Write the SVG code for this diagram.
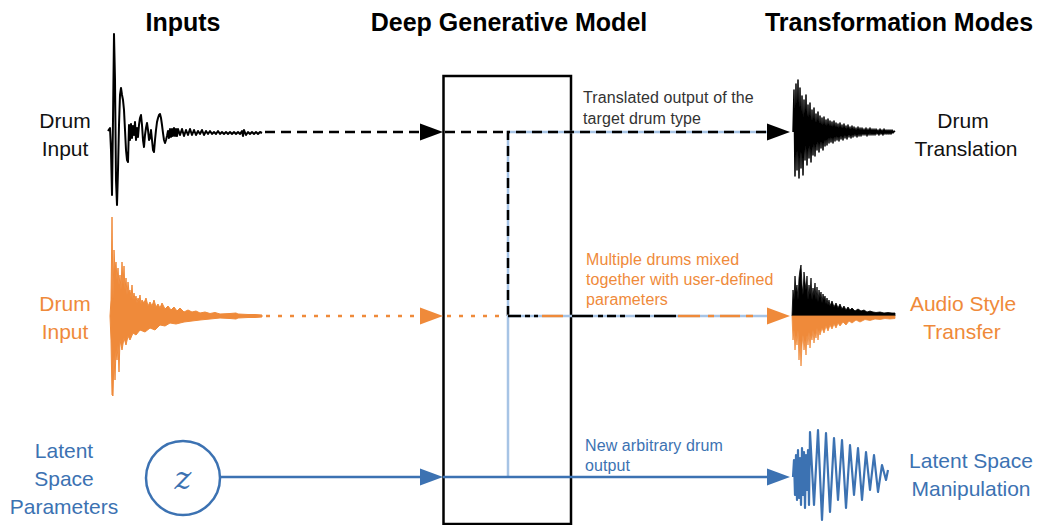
<svg xmlns="http://www.w3.org/2000/svg" xmlns:xlink="http://www.w3.org/1999/xlink" width="1040" height="525" viewBox="0 0 1040 525">
  <style>
    .title { font-family: "Liberation Sans", Arial, sans-serif; font-weight: bold; font-size: 25px; fill: #000; text-anchor: middle; }
    .label { font-family: "Liberation Sans", Arial, sans-serif; font-size: 21px; text-anchor: middle; }
    .note { font-family: "Liberation Sans", Arial, sans-serif; font-size: 16px; letter-spacing: 0.1px; }
    .black { fill: #111; }
    .grey { fill: #333; }
    .orange { fill: #ef8a3a; }
    .blue { fill: #3c72b2; }
    .wire { fill: none; stroke-width: 2.5; }
  </style>
  <defs>
    <path id="arrowhead" d="M0,0 L-23,-8.5 L-23,8.5 Z"/>
  </defs>

  <rect width="1040" height="525" fill="#fff"/>

  <!-- column titles -->
  <text class="title" x="183" y="31">Inputs</text>
  <text class="title" x="509" y="31">Deep Generative Model</text>
  <text class="title" x="899" y="31">Transformation Modes</text>

  <!-- model box -->
  <g id="model">
    <rect x="443.5" y="76" width="127.5" height="448" fill="none" stroke="#000" stroke-width="2.5"/>
  </g>

  <!-- input: drum (black) -->
  <g id="drum-input">
    <text class="label black" x="65" y="127.5">Drum</text>
    <text class="label black" x="65" y="155.5">Input</text>
    <path fill="none" stroke="#000" stroke-width="2" stroke-linejoin="round" d="M108,131 L110,128 L111,150 L112,195 L113,120 L114,34 L115,80 L116,180 L117,205 L118,170 L119,125 L120,95 L121,88 L122,95 L123,100 L124,110 L125,130 L126,150 L127,160 L128,162 L129,125 L130,140 L131,124 L132,138 L133,126 L134,135 L135,122 L136,140 L137,128 L138,137 L139,125 L140,118 L141,115 L142,125 L143,140 L144,147 L145,135 L146,128 L147,123 L148,130 L149,140 L150,138 L151,130 L152,140 L153,150 L154,152 L155,140 L156,130 L157,122 L158,118 L159,115 L160,114 L161,118 L162,125 L163,133 L164,140 L165,143 L166,140 L167,136 L168,131 L169,138 L170,129 L171,137 L172,129 L173,136 L174,128 L175,136 L176,129 L177,136 L178,129 L180,135 L182,129 L184,136 L186,130 L188,135 L190,129 L192,135 L194,130 L196,135 L198,131 L200,134 L202,130 L204,135 L206,131 L208,134 L210,131 L212,134 L214,132 L216,134 L218,131 L220,134 L222,132 L224,134 L226,132 L228,134 L230,132 L232,134 L234,132 L236,134 L238,132 L240,134 L242,131 L243,136 L244,130 L246,135 L248,132 L250,134 L252,132 L254,134 L256,132 L258,134 L260,132 L262,133"/>
  </g>

  <!-- input: drum (orange) -->
  <g id="drum-input-mix">
    <text class="label orange" x="65" y="311">Drum</text>
    <text class="label orange" x="65" y="339">Input</text>
    <path fill="#ef8a3a" stroke="#ef8a3a" stroke-width="1" stroke-linejoin="round" d="M110,316 L111,300 L112,217 L113,300 L114,250 L115,270 L116,262 L117,280 L118,268 L119,285 L120,275 L121,290 L122,262 L123,285 L124,266 L125,290 L126,278 L127,295 L128,282 L129,292 L130,290 L131,298 L132,285 L133,300 L134,293 L135,300 L136,296 L137,303 L138,298 L139,301 L140,295 L141,304 L142,300 L144,303 L146,298 L148,306 L150,302 L152,306 L154,300 L156,307 L158,304 L160,308 L162,303 L165,309 L168,306 L171,310 L174,307 L177,311 L180,308 L184,312 L188,310 L192,312 L196,311 L200,313 L205,312 L210,313.5 L215,312.5 L220,314 L230,313.5 L236,313 L238,314 L248,314.5 L255,314.5 L262,315 L262,317 L255,317.5 L248,317.5 L238,318 L236,319 L230,318.5 L220,318 L210,319 L200,320 L192,321 L184,322 L176,324 L170,323 L165,326 L160,325 L155,330 L150,328 L145,332 L140,330 L136,335 L133,333 L130,340 L128,336 L126,345 L124,338 L122,350 L120,340 L119,372 L118,345 L117,360 L116,350 L115,380 L114,355 L113,396 L112,395 L111,340 Z"/>
  </g>

  <!-- input: latent parameters -->
  <g id="latent-input">
    <text class="label blue" x="64" y="458">Latent</text>
    <text class="label blue" x="64" y="486">Space</text>
    <text class="label blue" x="64" y="514">Parameters</text>
    <circle cx="183" cy="478" r="37" fill="#fff" stroke="#3c72b2" stroke-width="2.5"/>
    <text x="183" y="489" text-anchor="middle" font-family="'DejaVu Serif', 'Liberation Serif', serif" font-style="italic" font-size="32" fill="#3c72b2">z</text>
  </g>

  <!-- output: drum translation -->
  <g id="drum-translation">
    <path fill="none" stroke="#000" stroke-width="1.5" stroke-linejoin="round" d="M793,132 L794,90 L795,176 L796,84 L797,170 L798,80 L799,178 L800,88 L801,168 L802,96 L803,175 L804,100 L805,160 L806,95 L807,165 L808,105 L809,158 L810,103 L811,162 L812,110 L813,155 L814,108 L815,156 L816,114 L817,150 L818,112 L819,152 L820,116 L821,148 L822,118 L823,150 L824,117 L825,146 L826,120 L827,145 L828,119 L829,143 L830,121 L831,142 L832,122 L833,143 L834,121 L835,141 L836,123 L837,140 L838,124 L839,141 L840,123 L841,139 L842,125 L843,140 L844,124 L845,138 L846,126 L847,139 L848,125 L849,137 L850,127 L851,138 L852,126 L853,137 L854,127 L855,136 L856,128 L857,137 L858,127 L859,136 L860,128 L861,136 L862,128 L863,135 L864,129 L865,135 L866,128 L867,136 L868,129 L869,135 L870,128 L871,135 L872,129 L873,135 L874,129 L875,135 L876,129 L877,134 L878,130 L879,135 L880,129 L881,134 L882,130 L883,135 L884,129 L885,134 L886,130 L887,134 L888,130 L889,134 L890,130 L891,134 L892,130 L893,133 L894,131 L895,132"/>
    <text class="label black" x="963" y="127.5">Drum</text>
    <text class="label black" x="966" y="155.5">Translation</text>
  </g>

  <!-- output: audio style transfer -->
  <g id="style-transfer">
    <path fill="#000" stroke="#000" stroke-width="0.8" stroke-linejoin="round" d="M792,316 L793,290 L794,300 L795,276 L796,292 L797,285 L798,300 L799,278 L800,270 L801,265 L802,285 L803,295 L804,272 L805,282 L806,290 L807,276 L808,300 L809,285 L810,295 L811,278 L812,300 L813,288 L814,296 L815,283 L816,300 L817,287 L818,302 L819,290 L820,298 L821,292 L822,303 L823,294 L824,300 L825,296 L826,304 L827,298 L828,305 L829,300 L830,306 L832,301 L834,307 L836,303 L838,308 L840,304 L842,309 L844,306 L846,310 L848,307 L850,310 L852,308 L855,311 L858,309 L861,311 L864,310 L867,312 L870,311 L873,312 L876,312.5 L880,312 L884,313 L888,312.5 L892,313 L895,313 L895,316 Z"/>
    <path fill="#ef8a3a" stroke="#ef8a3a" stroke-width="0.8" stroke-linejoin="round" d="M792,316 L793,340 L794,330 L795,350 L796,335 L797,345 L798,330 L799,360 L800,340 L801,366 L802,345 L803,335 L804,350 L805,340 L806,355 L807,335 L808,345 L809,332 L810,348 L811,335 L812,340 L813,330 L814,343 L815,333 L816,338 L817,328 L818,340 L819,330 L820,335 L822,328 L824,333 L826,326 L828,331 L830,325 L832,329 L834,324 L836,328 L838,323 L840,326 L843,322 L846,325 L849,321 L852,323 L856,320 L860,322 L865,319.5 L870,320.5 L875,319 L880,319.5 L885,318.5 L890,319 L895,318.5 L895,316 Z"/>
    <text class="label orange" x="963" y="311">Audio Style</text>
    <text class="label orange" x="962" y="339">Transfer</text>
  </g>

  <!-- output: latent space manipulation -->
  <g id="latent-manipulation">
    <path fill="none" stroke="#3c72b2" stroke-width="2.2" stroke-linejoin="round" d="M793,477 L794,460 L795,495 L796,455 L797,500 L798,450 L799,498 L800,458 L801,505 L802,448 L803,495 L804,452 L805,508 L806,455 L807,490 L808,450 L809,505 L810,432 L814,505 L818,430 L822,520 L826,433 L830,512 L834,438 L838,500 L842,440 L846,508 L850,445 L854,495 L858,448 L862,500 L866,452 L870,490 L874,455 L878,492 L882,465 L886,480 L888,470"/>
    <text class="label blue" x="971" y="468">Latent Space</text>
    <text class="label blue" x="971" y="496">Manipulation</text>
  </g>

  <!-- connectors -->
  <g id="connectors">
    <!-- drum translation path -->
    <path class="wire" stroke="#000" stroke-dasharray="10 6" d="M265,132 H421"/>
    <path class="wire" stroke="#000" stroke-dasharray="10 6" d="M445,132 H508"/>
    <path class="wire" stroke="#a7c4e5" d="M508,316 V132 H768"/>
    <path class="wire" stroke="#000" stroke-dasharray="10 6" d="M508,316 V132 H768"/>
    <use xlink:href="#arrowhead" x="443" y="132" fill="#000"/>
    <use xlink:href="#arrowhead" x="790" y="132" fill="#000"/>

    <!-- mixed drum path -->
    <path class="wire" stroke="#ef8a3a" stroke-dasharray="4 8" d="M266,316 H421"/>
    <path class="wire" stroke="#ef8a3a" stroke-dasharray="4 8" d="M447,316 H508"/>
    <path class="wire" stroke="#a7c4e5" d="M508,477 V316 H768"/>
    <path class="wire" stroke="#000" d="M508,316 H521 M525,316 H530 M534,316 H538 M572,316 H593 M598,316 H603 M607,316 H616 M620,316 H625 M635,316 H650 M654,316 H676"/>
    <path class="wire" stroke="#ef8a3a" d="M542,316 H563 M678,316 H700 M708,316 H714 M720,316 H740 M746,316 H753"/>
    <use xlink:href="#arrowhead" x="443" y="316" fill="#ef8a3a"/>
    <use xlink:href="#arrowhead" x="790" y="316" fill="#ef8a3a"/>

    <!-- latent path -->
    <path class="wire" stroke="#3c72b2" d="M220,477 H421"/>
    <path class="wire" stroke="#3c72b2" d="M443,477 H768"/>
    <use xlink:href="#arrowhead" x="443" y="477" fill="#3c72b2"/>
    <use xlink:href="#arrowhead" x="790" y="477" fill="#3c72b2"/>
  </g>

  <!-- connector notes -->
  <text class="note grey" x="583" y="103">Translated output of the</text>
  <text class="note grey" x="583" y="124">target drum type</text>
  <text class="note orange" x="586" y="265">Multiple drums mixed</text>
  <text class="note orange" x="586" y="285">together with user-defined</text>
  <text class="note orange" x="586" y="305">parameters</text>
  <text class="note blue" x="585" y="451">New arbitrary drum</text>
  <text class="note blue" x="585" y="471">output</text>
</svg>
